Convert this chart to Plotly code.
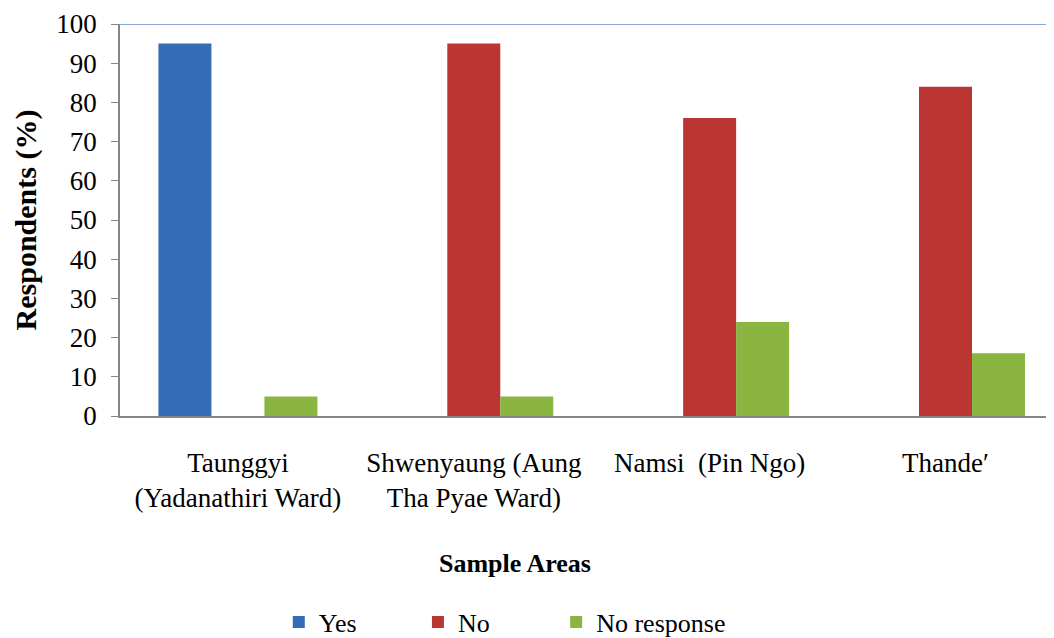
import plotly.graph_objects as go

categories = ["Taunggyi<br>(Yadanathiri Ward)", "Shwenyaung (Aung<br>Tha Pyae Ward)",
              "Namsi  (Pin Ngo)", "Thande′"]
yes_vals = [95, 0, 0, 0]
no_vals = [0, 95, 76, 84]
noresp_vals = [5, 5, 24, 16]
y_ticks = [0, 10, 20, 30, 40, 50, 60, 70, 80, 90, 100]

FONT = "Liberation Serif"

fig = go.Figure()
fig.add_trace(go.Bar(name="Yes", x=categories, y=yes_vals, marker_color="#346db5",
                     marker_line_width=0, legend="legend"))
fig.add_trace(go.Bar(name="No", x=categories, y=no_vals, marker_color="#bb3633",
                     marker_line_width=0, legend="legend2"))
fig.add_trace(go.Bar(name="No response", x=categories, y=noresp_vals, marker_color="#8ab541",
                     marker_line_width=0, legend="legend3"))

fig.add_shape(type="line", xref="paper", yref="y", x0=0, x1=1, y0=100, y1=100,
              line=dict(color="#86aad8", width=2), layer="above")

fig.add_annotation(text="<b>Sample Areas</b>", xref="paper", yref="paper",
                   x=0.423, y=-0.375, xanchor="center", yanchor="middle", showarrow=False,
                   font=dict(family=FONT, size=26, color="black"))

leg_common = dict(orientation="h", xanchor="left", y=-0.526, yanchor="middle",
                  font=dict(family=FONT, size=26, color="black"), itemwidth=30,
                  bgcolor="rgba(0,0,0,0)")

fig.update_layout(
    width=1046, height=630,
    margin=dict(l=112, r=0, t=16, b=222, autoexpand=False),
    paper_bgcolor="white", plot_bgcolor="white",
    barmode="group", bargap=0.326, bargroupgap=0,
    font=dict(family=FONT, size=26, color="black"),
    showlegend=True,
    legend=dict(x=0.170, **leg_common),
    legend2=dict(x=0.319, **leg_common),
    legend3=dict(x=0.467, **leg_common),
    xaxis=dict(
        range=[-0.5, 3.46],
        showline=True, linecolor="#868686", linewidth=1.5,
        ticks="", showgrid=False, ticklabelstandoff=22, automargin=False,
        tickfont=dict(family=FONT, size=27, color="black"),
    ),
    yaxis=dict(
        range=[0, 100], tickvals=y_ticks, showline=True, linecolor="#868686", linewidth=1.5,
        ticks="outside", ticklen=7, tickcolor="#868686", showgrid=False, automargin=False,
        ticklabelstandoff=9, tickfont=dict(family=FONT, size=27, color="black"), zeroline=False,
        title=dict(text="<b>Respondents (%)</b>", font=dict(family=FONT, size=30, color="black"),
                   standoff=11),
    ),
)

fig.write_html("out.html")
